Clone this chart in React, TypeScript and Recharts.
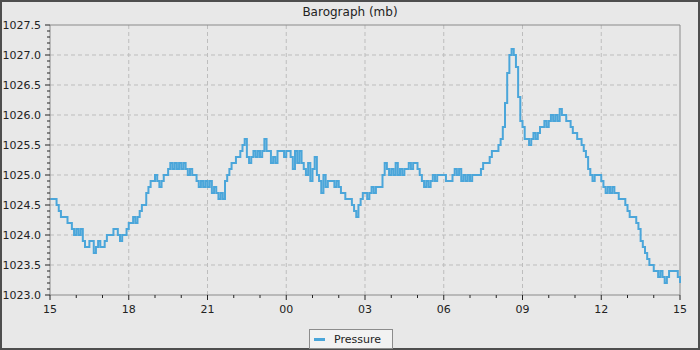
import React from 'react';
import {
    LineChart,
    Line,
    XAxis,
    YAxis,
    CartesianGrid,
    Legend,
    ReferenceLine
} from 'recharts';

// 5-minute readings from 15:00 to 15:00 next day, one row per hour
const pressure: number[] = [
    1024.6, 1024.6, 1024.6, 1024.5, 1024.4, 1024.3, 1024.3, 1024.3, 1024.2, 1024.2, 1024.1, 1024.0, // 15
    1024.1, 1024.0, 1024.1, 1023.9, 1023.8, 1023.8, 1023.9, 1023.9, 1023.7, 1023.8, 1023.9, 1023.8, // 16
    1023.8, 1023.9, 1024.0, 1024.0, 1024.0, 1024.1, 1024.1, 1024.0, 1023.9, 1024.0, 1024.0, 1024.1, // 17
    1024.2, 1024.2, 1024.3, 1024.2, 1024.3, 1024.4, 1024.5, 1024.5, 1024.7, 1024.8, 1024.9, 1024.9, // 18
    1025.0, 1024.9, 1024.8, 1024.9, 1025.0, 1025.0, 1025.1, 1025.2, 1025.1, 1025.2, 1025.1, 1025.2, // 19
    1025.1, 1025.2, 1025.1, 1025.0, 1025.1, 1025.0, 1025.0, 1024.9, 1024.8, 1024.9, 1024.8, 1024.9, // 20
    1024.8, 1024.9, 1024.7, 1024.8, 1024.7, 1024.6, 1024.7, 1024.6, 1024.9, 1025.0, 1025.1, 1025.2, // 21
    1025.2, 1025.3, 1025.3, 1025.4, 1025.5, 1025.6, 1025.3, 1025.2, 1025.3, 1025.4, 1025.3, 1025.4, // 22
    1025.3, 1025.4, 1025.6, 1025.4, 1025.4, 1025.2, 1025.3, 1025.2, 1025.4, 1025.4, 1025.4, 1025.3, // 23
    1025.4, 1025.4, 1025.3, 1025.1, 1025.4, 1025.2, 1025.4, 1025.2, 1025.1, 1025.0, 1025.2, 1024.9, // 00
    1025.1, 1025.3, 1025.0, 1024.9, 1024.7, 1025.0, 1024.8, 1024.9, 1024.9, 1024.9, 1024.8, 1024.9, // 01
    1024.8, 1024.7, 1024.7, 1024.6, 1024.6, 1024.6, 1024.5, 1024.4, 1024.3, 1024.5, 1024.6, 1024.7, // 02
    1024.7, 1024.6, 1024.7, 1024.8, 1024.7, 1024.8, 1024.8, 1024.8, 1025.0, 1025.2, 1025.1, 1025.0, // 03
    1025.1, 1025.0, 1025.2, 1025.0, 1025.1, 1025.0, 1025.1, 1025.1, 1025.2, 1025.1, 1025.2, 1025.2, // 04
    1025.1, 1025.0, 1024.9, 1024.8, 1024.9, 1024.8, 1024.9, 1025.0, 1024.9, 1025.0, 1025.0, 1025.0, // 05
    1025.0, 1024.9, 1024.9, 1024.9, 1025.0, 1025.1, 1025.0, 1025.1, 1024.9, 1025.0, 1024.9, 1025.0, // 06
    1024.9, 1025.0, 1025.0, 1025.0, 1025.0, 1025.1, 1025.2, 1025.2, 1025.2, 1025.3, 1025.4, 1025.4, // 07
    1025.4, 1025.5, 1025.6, 1025.8, 1026.2, 1026.7, 1027.0, 1027.1, 1027.0, 1026.8, 1026.3, 1025.9, // 08
    1025.8, 1025.6, 1025.6, 1025.5, 1025.6, 1025.7, 1025.6, 1025.7, 1025.8, 1025.8, 1025.9, 1025.8, // 09
    1025.9, 1026.0, 1025.9, 1026.0, 1025.9, 1026.1, 1026.0, 1026.0, 1025.9, 1025.9, 1025.8, 1025.7, // 10
    1025.7, 1025.6, 1025.6, 1025.5, 1025.4, 1025.3, 1025.1, 1025.0, 1024.9, 1025.0, 1025.0, 1025.0, // 11
    1024.9, 1024.8, 1024.7, 1024.8, 1024.7, 1024.8, 1024.7, 1024.7, 1024.6, 1024.6, 1024.6, 1024.5, // 12
    1024.4, 1024.3, 1024.3, 1024.3, 1024.2, 1024.1, 1023.9, 1023.8, 1023.7, 1023.6, 1023.5, 1023.5, // 13
    1023.4, 1023.4, 1023.3, 1023.4, 1023.3, 1023.2, 1023.3, 1023.4, 1023.4, 1023.4, 1023.4, 1023.3, // 14
    1023.2 // 15
];

const SAMPLE_MINUTES = 5;

// hours since 15:00
const hourTicks = [0, 1, 2, 3, 4, 5, 6, 7, 8, 9, 10, 11, 12, 13, 14, 15, 16, 17, 18, 19, 20, 21, 22, 23, 24];
const majorHours = [0, 3, 6, 9, 12, 15, 18, 21, 24];
const hourLabels = ['15', '18', '21', '00', '03', '06', '09', '12', '15'];

const pressureMajor = [1023.0, 1023.5, 1024.0, 1024.5, 1025.0, 1025.5, 1026.0, 1026.5, 1027.0, 1027.5];
const pressureMinorStep = 0.1;

const FONT = '"DejaVu Sans", Verdana, sans-serif';
const LINE_COLOR = '#4ba6da';

const data = pressure.map((p, i) => ({ t: (i * SAMPLE_MINUTES) / 60, pressure: p }));

const yTicks: number[] = [];
for (let v = 1023.0; v <= 1027.5 + 1e-6; v += pressureMinorStep) {
    yTicks.push(Math.round(v * 10) / 10);
}

const isMajorY = (v: number) => pressureMajor.some(m => Math.abs(m - v) < 1e-6);

const YTick = (props: any) => {
    const { x, y, payload } = props;
    const major = isMajorY(payload.value);
    return (
        <g>
            <line x1={x - (major ? 5 : 3)} x2={x} y1={y} y2={y} stroke="#222" strokeWidth={1} />
            {major && (
                <text x={x - 9} y={y + 4} textAnchor="end" fontSize={11} fontFamily={FONT} fill="#222">
                    {payload.value.toFixed(1)}
                </text>
            )}
        </g>
    );
};

const XTick = (props: any) => {
    const { x, y, payload } = props;
    const idx = majorHours.indexOf(payload.value);
    const major = idx >= 0;
    return (
        <g>
            <line x1={x} x2={x} y1={y} y2={y + (major ? 5 : 3)} stroke="#222" strokeWidth={1} />
            {major && (
                <text x={x} y={y + 18} textAnchor="middle" fontSize={11} fontFamily={FONT} fill="#222">
                    {hourLabels[idx]}
                </text>
            )}
        </g>
    );
};

const LegendBox = () => (
    <div
        style={{
            width: 82,
            height: 18,
            border: '1px solid #8c8c8c',
            background: '#f2f2f2',
            display: 'flex',
            alignItems: 'center',
            fontFamily: FONT,
            fontSize: 11,
            color: '#222'
        }}
    >
        <span style={{ display: 'inline-block', width: 11, height: 3, background: LINE_COLOR, marginLeft: 4, marginRight: 9 }} />
        <span>Pressure</span>
    </div>
);

export default function App() {
    return (
        <div
            style={{
                position: 'absolute',
                left: 0,
                top: 0,
                width: 700,
                height: 350,
                background: '#e8e8e8',
                boxShadow: 'inset 0 0 0 2px #4e4e4e'
            }}
        >
            <div
                style={{
                    position: 'absolute',
                    top: 4,
                    left: 0,
                    width: 700,
                    textAlign: 'center',
                    fontFamily: FONT,
                    fontSize: 12,
                    lineHeight: '16px',
                    color: '#222'
                }}
            >
                Barograph (mb)
            </div>
            <LineChart width={700} height={350} data={data} margin={{ top: 25, right: 20, left: 0, bottom: 0 }}>
                <CartesianGrid
                    stroke="#bdbdbd"
                    strokeDasharray="4 3"
                    horizontalValues={[1023.5, 1024.0, 1024.5, 1025.0, 1025.5, 1026.0, 1026.5, 1027.0]}
                    verticalValues={[3, 6, 9, 12, 15, 18, 21]}
                />
                <XAxis
                    dataKey="t"
                    type="number"
                    domain={[0, 24]}
                    ticks={hourTicks}
                    interval={0}
                    height={55}
                    tickSize={0}
                    tickMargin={0}
                    tickLine={false}
                    stroke="#8a8a8a"
                    tick={<XTick />}
                />
                <YAxis
                    type="number"
                    domain={[1023, 1027.5]}
                    ticks={yTicks}
                    interval={0}
                    width={50}
                    tickSize={0}
                    tickMargin={0}
                    tickLine={false}
                    stroke="#8a8a8a"
                    tick={<YTick />}
                />
                <ReferenceLine y={1027.5} stroke="#8a8a8a" />
                <ReferenceLine x={24} stroke="#8a8a8a" />
                <Line
                    type="stepAfter"
                    dataKey="pressure"
                    name="Pressure"
                    stroke={LINE_COLOR}
                    strokeWidth={2}
                    dot={false}
                    isAnimationActive={false}
                />
                <Legend
                    layout="horizontal"
                    verticalAlign="middle"
                    align="center"
                    wrapperStyle={{ top: 329, left: 309, width: 84, height: 20 }}
                    content={() => <LegendBox />}
                />
            </LineChart>
        </div>
    );
}
